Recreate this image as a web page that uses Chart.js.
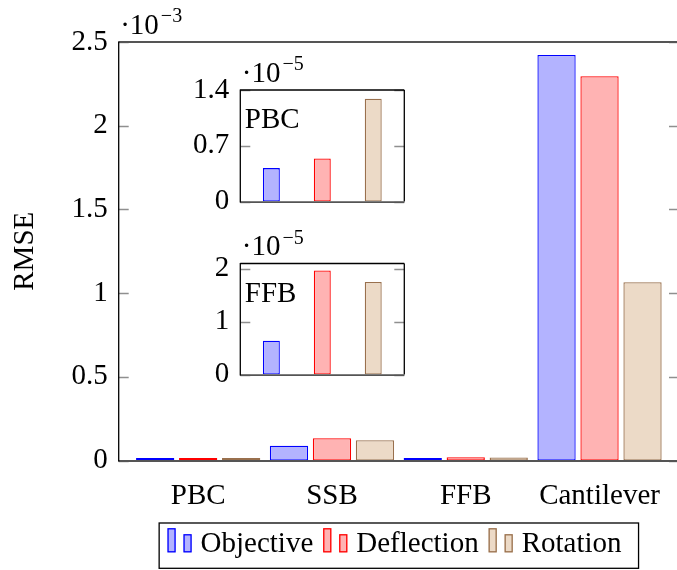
<!DOCTYPE html>
<html>
<head>
<meta charset="utf-8">
<script src="https://cdn.jsdelivr.net/npm/chart.js@4.4.1/dist/chart.umd.min.js"></script>
<style>
  html, body { margin: 0; padding: 0; background: #fff; overflow: hidden; }
  #wrap { position: relative; width: 677px; height: 570px; overflow: hidden; }
  canvas { position: absolute; }
</style>
</head>
<body>
<div id="wrap">
  <canvas id="main-chart" style="left:0;top:0;width:690px;height:570px" width="690" height="570"></canvas>
  <canvas id="inset-pbc" style="left:180px;top:45px;width:240px;height:185px" width="240" height="185"></canvas>
  <canvas id="inset-ffb" style="left:180px;top:218px;width:240px;height:185px" width="240" height="185"></canvas>
</div>
<script>
/* RMSE bar chart with two zoomed insets (pgfplots look) */

const categories = ['PBC', 'SSB', 'FFB', 'Cantilever'];
const seriesNames = ['Objective', 'Deflection', 'Rotation'];
// main chart values, in units of 1e-3
const objective = [0.0042, 0.088, 0.0064, 2.422];
const deflection = [0.0054, 0.133, 0.0197, 2.295];
const rotation = [0.0129, 0.121, 0.0175, 1.065];
const mainTicks = [0, 0.5, 1, 1.5, 2, 2.5];
// inset values, in units of 1e-5
const pbcInset = [0.42, 0.54, 1.29];
const ffbInset = [0.64, 1.97, 1.75];
const pbcTicks = [0, 0.7, 1.4];
const ffbTicks = [0, 1, 2];

const FILLS = ['rgb(179,179,255)', 'rgb(255,179,179)', 'rgb(236,218,199)'];
const STROKES = ['rgb(0,0,255)', 'rgb(255,0,0)', 'rgb(153,112,77)'];
const FONT_FAMILY = '"Liberation Serif", "DejaVu Serif", serif';
const FONT = { family: FONT_FAMILY, size: 29 };

Chart.defaults.font.family = FONT_FAMILY;
Chart.defaults.color = '#000';

/* ---- Plugin: pgfplots style box, inward ticks, exponent, tag ---- */
const framePlugin = {
  id: 'frame',
  afterDatasetsDraw(chart, args, opts) {
    const { ctx, chartArea: a, scales } = chart;
    ctx.save();
    // inward tick marks on both sides
    ctx.strokeStyle = '#8f8f8f';
    ctx.lineWidth = 1.3;
    scales.y.ticks.forEach((t) => {
      const y = Math.round(scales.y.getPixelForValue(t.value)) + 0.5;
      ctx.beginPath();
      ctx.moveTo(a.left, y); ctx.lineTo(a.left + 10, y);
      ctx.moveTo(a.right, y); ctx.lineTo(a.right - 10, y);
      ctx.stroke();
    });
    // box
    const line = (x1, y1, x2, y2, color, w) => {
      ctx.beginPath(); ctx.strokeStyle = color; ctx.lineWidth = w;
      ctx.moveTo(x1, y1); ctx.lineTo(x2, y2); ctx.stroke();
    };
    line(a.left, a.top, a.right, a.top, opts.topColor, opts.topWidth);
    line(a.right, a.top, a.right, a.bottom, '#000', 1.3);
    line(a.left, a.bottom + 0.5, a.right, a.bottom + 0.5, '#555', 1.8);
    line(a.left, a.top - 0.6, a.left, a.bottom + 1, '#000', 1.3);
    // exponent label
    ctx.fillStyle = '#000';
    ctx.textAlign = 'left';
    ctx.textBaseline = 'alphabetic';
    ctx.font = `29px ${FONT_FAMILY}`;
    ctx.fillText('·10', a.left + 1.5, a.top - 8.5);
    const w = ctx.measureText('·10').width;
    ctx.font = `20px ${FONT_FAMILY}`;
    ctx.fillText('−' + opts.exponent, a.left + 1.5 + w + 2, a.top - 20);
    // tag in the corner
    if (opts.tag) {
      ctx.font = `29px ${FONT_FAMILY}`;
      ctx.fillText(opts.tag, a.left + 4.5, a.top + 38);
    }
    ctx.restore();
  },
};

/* ---- Plugin: boxed legend with pgfplots bar icons ---- */
const legendPlugin = {
  id: 'boxLegend',
  afterDraw(chart) {
    const { ctx, chartArea: a } = chart;
    const sets = chart.data.datasets;
    ctx.save();
    ctx.font = `29px ${FONT_FAMILY}`;
    const iconW = 33, gapAfterText = 10;
    const widths = sets.map((d) => iconW + ctx.measureText(d.label).width);
    const inner = widths.reduce((s, v) => s + v, 0) + gapAfterText * (sets.length - 1);
    const boxW = inner + 8.4 + 17;
    const boxH = 45.3;
    const left = (a.left + a.right) / 2 - boxW / 2;
    const top = a.bottom + 62.5;
    const base = top + 29.3;
    ctx.strokeStyle = '#000';
    ctx.lineWidth = 1.3;
    ctx.strokeRect(left, top, boxW, boxH);
    let x = left + 8.4;
    sets.forEach((d, i) => {
      ctx.fillStyle = d.backgroundColor;
      ctx.strokeStyle = d.borderColor;
      ctx.lineWidth = 1.3;
      ctx.fillRect(x, base - 24, 8, 24);
      ctx.strokeRect(x + 0.5, base - 24 + 0.5, 7, 23);
      ctx.fillRect(x + 16, base - 18, 8, 18);
      ctx.strokeRect(x + 16.5, base - 18 + 0.5, 7, 17);
      ctx.fillStyle = '#000';
      ctx.textAlign = 'left';
      ctx.textBaseline = 'alphabetic';
      ctx.fillText(d.label, x + iconW, base);
      x += widths[i] + gapAfterText;
    });
    ctx.restore();
  },
};

const fmtTick = (v) => String(Math.round(v * 100) / 100);

/* ---- Main chart ---- */
function makeMain() {
  const mainSeries = [objective, deflection, rotation];
  new Chart(document.getElementById('main-chart'), {
    type: 'bar',
    data: {
      datasets: mainSeries.map((vals, i) => ({
        label: seriesNames[i],
        data: vals.map((v, j) => ({ x: j, y: v })),
        backgroundColor: FILLS[i],
        borderColor: STROKES[i],
        borderWidth: 1.3,
        borderSkipped: false,
        minBarLength: 2.6,
        categoryPercentage: 0.964,
        barPercentage: 0.89,
      })),
    },
    options: {
      responsive: false, animation: false, devicePixelRatio: 1,
      layout: { padding: { top: 42, right: 11, left: 0, bottom: 0 } },
      plugins: {
        legend: { display: false }, tooltip: { enabled: false },
        frame: { exponent: '3', topColor: '#555', topWidth: 2 },
      },
      scales: {
        x: {
          type: 'linear', min: -0.594, max: 3.594, offset: false,
          grid: { display: false, drawTicks: false }, border: { display: false },
          afterBuildTicks: (s) => { s.ticks = categories.map((_, i) => ({ value: i })); },
          ticks: { callback: (v) => categories[v], font: FONT, color: '#000', padding: 18, maxRotation: 0, autoSkip: false },
          afterFit: (s) => { s.height = 109.5; },
        },
        y: {
          min: 0, max: 2.5,
          grid: { display: false, drawTicks: false }, border: { display: false },
          afterBuildTicks: (s) => { s.ticks = mainTicks.map((v) => ({ value: v })); },
          ticks: { font: FONT, color: '#000', padding: 11, callback: fmtTick },
          title: { display: true, text: 'RMSE', font: FONT, color: '#000', padding: { top: 8, bottom: 0 } },
          afterFit: (s) => { s.width = 118.7; },
        },
      },
    },
    plugins: [framePlugin, legendPlugin],
  });
}

/* ---- Insets ---- */
function makeInset(id, values, ticks, yMax, tag, topPad) {
  new Chart(document.getElementById(id), {
    type: 'bar',
    data: {
      datasets: [{
        label: tag,
        data: values.map((v, j) => ({ x: j, y: v })),
        backgroundColor: FILLS,
        borderColor: STROKES,
        borderWidth: 1.3,
        borderSkipped: false,
        categoryPercentage: 1,
        barPercentage: 0.333,
      }],
    },
    options: {
      responsive: false, animation: false, devicePixelRatio: 1,
      layout: { padding: { top: topPad, right: 15.7, left: 0, bottom: 185 - topPad - 130.5 } },
      plugins: {
        legend: { display: false }, tooltip: { enabled: false },
        frame: { exponent: '5', tag, topColor: '#000', topWidth: 1.3 },
      },
      scales: {
        x: { type: 'linear', display: false, min: -0.61, max: 2.61, offset: false },
        y: {
          min: 0, max: yMax,
          grid: { display: false, drawTicks: false }, border: { display: false },
          afterBuildTicks: (s) => { s.ticks = ticks.map((v) => ({ value: v })); },
          ticks: { font: FONT, color: '#000', padding: 11, callback: fmtTick },
          afterFit: (s) => { s.width = 60.3; },
        },
      },
    },
    plugins: [framePlugin],
  });
}

function drawAll() {
  makeMain();
  makeInset('inset-pbc', pbcInset, pbcTicks, 1.4, 'PBC', 45);
  makeInset('inset-ffb', ffbInset, ffbTicks, 2.1, 'FFB', 45.5);
}

document.fonts.load('29px "Liberation Serif"').then(drawAll, drawAll);
</script>
</body>
</html>
